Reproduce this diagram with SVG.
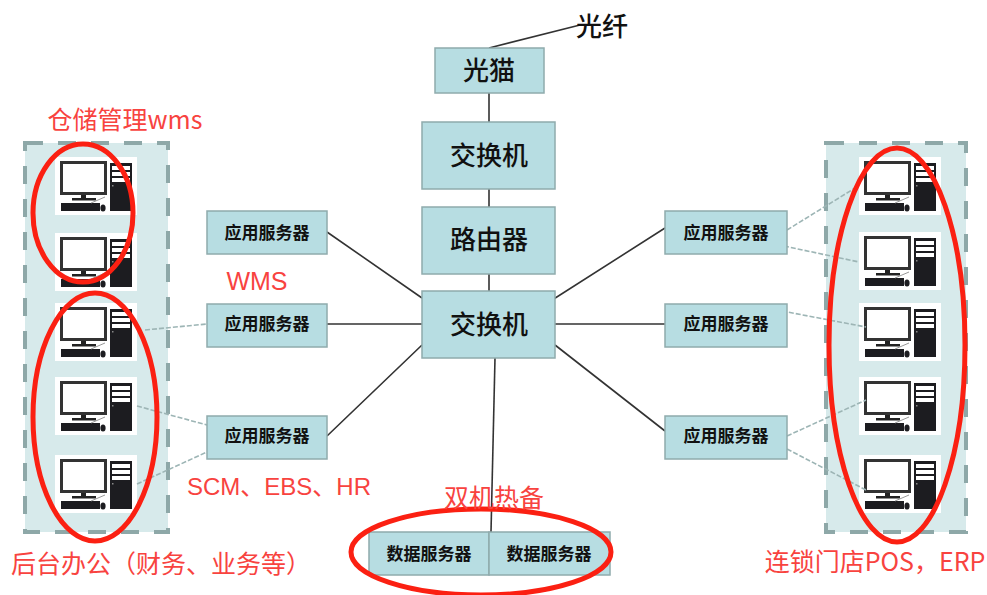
<svg xmlns="http://www.w3.org/2000/svg" xmlns:xlink="http://www.w3.org/1999/xlink" width="987" height="595" viewBox="0 0 987 595">
<style>
text{font-family:"Noto Sans CJK SC","Liberation Sans",sans-serif;text-anchor:middle}
.box{fill:#b7dde2;stroke:#8fabac;stroke-width:1.5}
.big{font-size:26px;font-weight:500;fill:#111}
.small{font-size:17px;font-weight:700;fill:#111}
.red{font-size:25px;fill:#f8433f}
.redl{font-family:"Liberation Sans","Noto Sans CJK SC",sans-serif}
.zone{fill:#d7eaeb;stroke:#8ea8a8;stroke-width:4;stroke-dasharray:18 15}
.ring{fill:none;stroke:#fb2012;stroke-width:5}
.solid{stroke:#333;stroke-width:1.6;fill:none}
.dash{stroke:#9db5b5;stroke-width:1.6;stroke-dasharray:5 2;fill:none}
</style>
<defs>
<g id="pc">
<rect width="82" height="58" fill="#fff"/>
<rect x="6.5" y="5.5" width="44" height="31" fill="#fff" stroke="#333" stroke-width="3"/>
<rect x="26" y="38" width="5" height="4" fill="#222"/>
<rect x="17" y="41" width="24" height="2.5" fill="#222"/>
<rect x="6" y="46" width="39" height="8" fill="#1c1c20"/>
<ellipse cx="48" cy="51" rx="2.6" ry="3.6" fill="#1c1c20"/>
<path d="M36 46L50 40" stroke="#999" stroke-width="1" fill="none"/>
<rect x="55" y="6" width="22" height="48" fill="#1c1c20"/>
<rect x="57" y="9" width="18" height="4" fill="#fff"/>
<rect x="57" y="15" width="18" height="4" fill="#fff"/>
<rect x="57" y="21" width="18" height="4" fill="#fff"/>
<rect x="57" y="28" width="1.5" height="1.5" fill="#888"/>
</g>
</defs>
<rect width="987" height="595" fill="#fff"/>
<g id="zone-left">
<rect class="zone" x="25" y="143" width="143" height="389"/>
<use xlink:href="#pc" href="#pc" x="55" y="157"/>
<use xlink:href="#pc" href="#pc" x="55" y="233"/>
<use xlink:href="#pc" href="#pc" x="55" y="303"/>
<use xlink:href="#pc" href="#pc" x="55" y="377"/>
<use xlink:href="#pc" href="#pc" x="55" y="455"/>
</g>
<g id="zone-right">
<rect class="zone" x="826" y="143" width="140" height="389"/>
<use xlink:href="#pc" href="#pc" x="859" y="157"/>
<use xlink:href="#pc" href="#pc" x="859" y="232"/>
<use xlink:href="#pc" href="#pc" x="859" y="303"/>
<use xlink:href="#pc" href="#pc" x="859" y="377"/>
<use xlink:href="#pc" href="#pc" x="859" y="455"/>
</g>
<g id="connectors">
<path class="solid" d="M489 48L580 25"/>
<path class="solid" d="M489 93V122M489 189V207M489 274V291"/>
<path class="solid" d="M327 232L422 298M327 324H422M327 436L422 345"/>
<path class="solid" d="M549 302L665 228M555 324H665M555 345L665 431"/>
<path class="solid" d="M495 358L491 532"/>
<path class="dash" d="M145 330L207 324M137 406L207 425M137 484L207 452"/>
<path class="dash" d="M787 230L855 188M784 246L859 262M782 311L866 327M787 436L866 400M787 449L866 490"/>
</g>
<g id="modem"><rect class="box" x="435" y="48" width="109" height="45"/><text class="big" x="489" y="80">光猫</text></g>
<g id="switch-top"><rect class="box" x="422" y="122" width="133" height="67"/><text class="big" x="489" y="165">交换机</text></g>
<g id="router"><rect class="box" x="422" y="207" width="133" height="67"/><text class="big" x="489" y="249">路由器</text></g>
<g id="switch-core"><rect class="box" x="422" y="291" width="133" height="67"/><text class="big" x="489" y="334">交换机</text></g>
<g id="app-l1"><rect class="box" x="207" y="211" width="120" height="43"/><text class="small" x="267" y="239">应用服务器</text></g>
<g id="app-l2"><rect class="box" x="207" y="304" width="120" height="43"/><text class="small" x="267" y="330">应用服务器</text></g>
<g id="app-l3"><rect class="box" x="207" y="416" width="120" height="43"/><text class="small" x="267" y="442">应用服务器</text></g>
<g id="app-r1"><rect class="box" x="665" y="211" width="122" height="43"/><text class="small" x="726" y="239">应用服务器</text></g>
<g id="app-r2"><rect class="box" x="665" y="304" width="122" height="43"/><text class="small" x="726" y="330">应用服务器</text></g>
<g id="app-r3"><rect class="box" x="665" y="416" width="122" height="43"/><text class="small" x="726" y="442">应用服务器</text></g>
<g id="db-1"><rect class="box" x="369" y="532" width="120" height="43"/><text class="small" x="429" y="560">数据服务器</text></g>
<g id="db-2"><rect class="box" x="489" y="532" width="121" height="43"/><text class="small" x="549" y="560">数据服务器</text></g>
<g id="rings">
<ellipse class="ring" cx="83" cy="213" rx="50" ry="69"/>
<ellipse class="ring" cx="95" cy="417" rx="62" ry="124"/>
<ellipse class="ring" cx="897" cy="345" rx="68" ry="197"/>
<ellipse class="ring" cx="481" cy="552" rx="130" ry="43"/>
</g>
<g id="labels">
<text class="big" x="602" y="36">光纤</text>
<text class="red" x="125" y="129">仓储管理wms</text>
<text class="red redl" x="257" y="290">WMS</text>
<text class="red redl" x="279" y="495" style="font-size:24px">SCM、EBS、HR</text>
<text class="red" x="161" y="573">后台办公（财务、业务等）</text>
<text class="red" x="494" y="507">双机热备</text>
<text class="red" x="875" y="571">连锁门店POS，ERP</text>
</g>
</svg>
